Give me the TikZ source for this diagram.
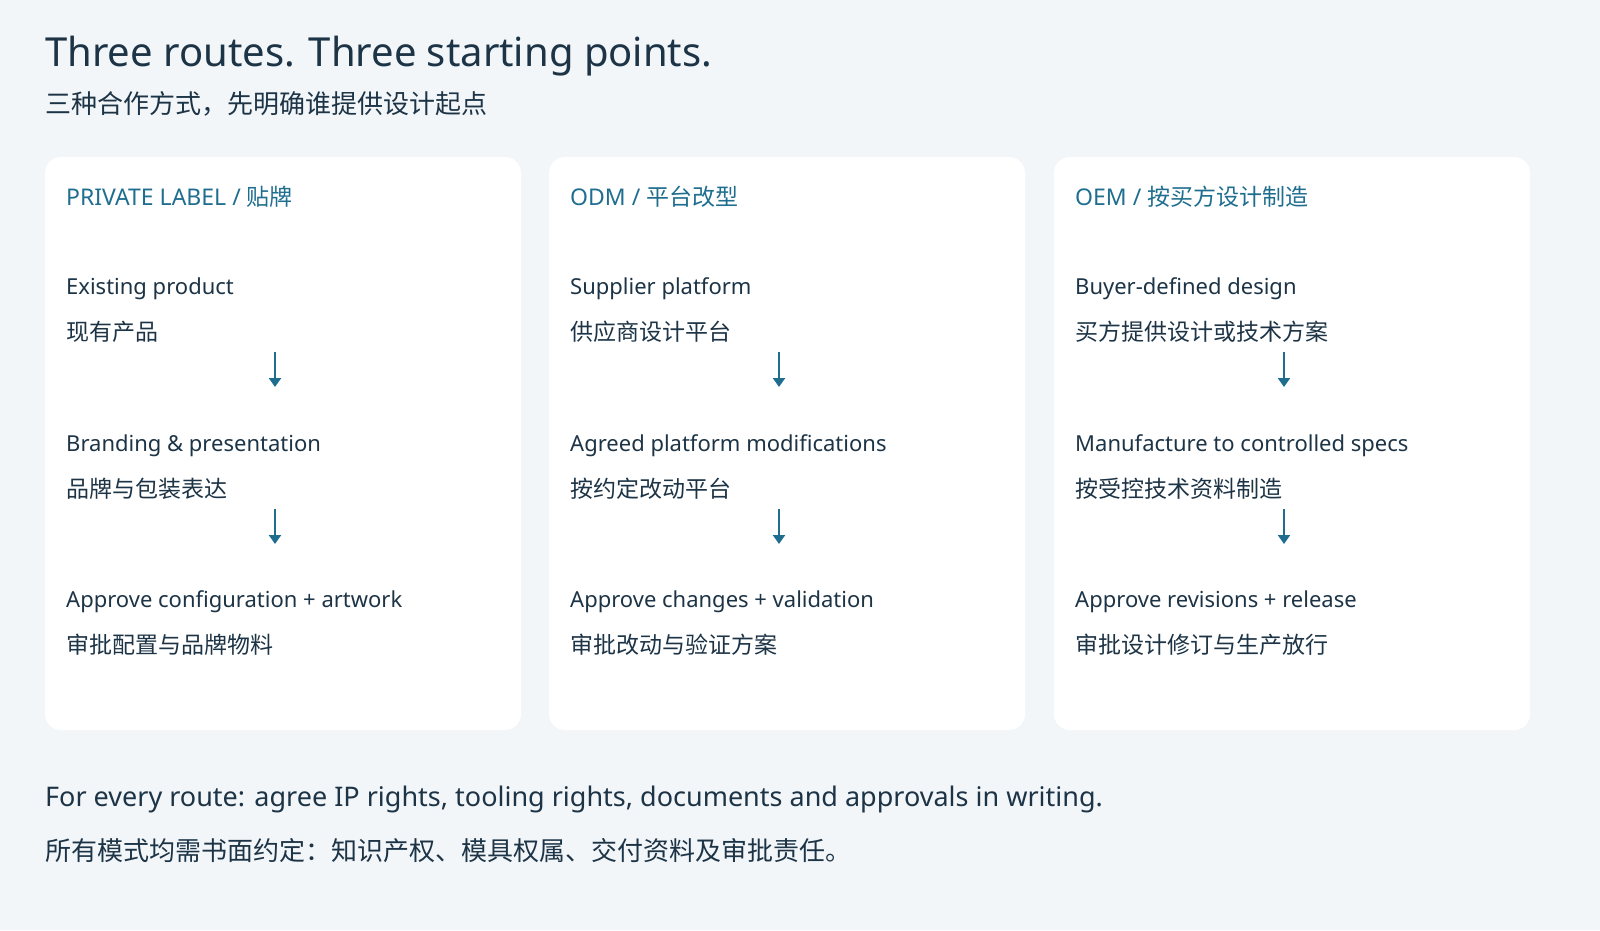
\documentclass[tikz,border=0pt]{standalone}
\usepackage{fontspec}
\setmainfont{Noto Sans}
\newfontfamily\cjk{Noto Sans CJK SC}
\usetikzlibrary{calc,arrows.meta}
\definecolor{pagebg}{HTML}{F2F6F9}
\definecolor{ink}{HTML}{1D3446}
\definecolor{accent}{HTML}{1F6E8F}
\tikzset{
  card/.style={fill=white,draw=none,rounded corners=16pt},
  txt/.style={anchor=base west,inner sep=0pt,text=ink,font=\fontsize{22}{26}\selectfont},
  zh/.style={txt,font=\cjk\fontsize{23}{27}\selectfont},
  head/.style={anchor=base west,inner sep=0pt,text=accent,font=\fontsize{23}{27}\selectfont},
  flowarrow/.style={draw=accent,line width=2.2pt,-{Triangle[length=9pt,width=12pt]}}
}
\begin{document}
\begin{tikzpicture}[x=1pt,y=-1pt]
  \fill[pagebg] (0,0) rectangle (1600,930);
  \useasboundingbox (0,0) rectangle (1600,930);
  % heading
  \node[anchor=base west,inner sep=0pt,text=ink,font=\fontsize{40}{46}\selectfont] (title) at (45,66) {Three routes. Three starting points.};
  \node[anchor=base west,inner sep=0pt,text=ink,font=\cjk\fontsize{26}{30}\selectfont] (subtitle) at (45,113) {三种合作方式，先明确谁提供设计起点};
  % cards
  \foreach \x/\n in {45/pl,549/odm,1054/oem}{
    \fill[card] (\x,157) rectangle ++(476,573);
    \coordinate (\n) at (\x+21,0);
  }
  \node[head] (plhead) at ($(pl)+(0,205)$) {PRIVATE LABEL / {\cjk 贴牌}};
  \node[head] (odmhead) at ($(odm)+(0,205)$) {ODM / {\cjk 平台改型}};
  \node[head] (oemhead) at ($(oem)+(0,205)$) {OEM / {\cjk 按买方设计制造}};
  % private label
  \node[txt] (pl1) at ($(pl)+(0,294)$) {Existing product};
  \node[zh] (pl1z) at ($(pl)+(0,340)$) {现有产品};
  \node[txt] (pl2) at ($(pl)+(0,451)$) {Branding \& presentation};
  \node[zh] (pl2z) at ($(pl)+(0,497)$) {品牌与包装表达};
  \node[txt] (pl3) at ($(pl)+(0,607)$) {Approve configuration + artwork};
  \node[zh] (pl3z) at ($(pl)+(0,653)$) {审批配置与品牌物料};
  % odm
  \node[txt] (odm1) at ($(odm)+(0,294)$) {Supplier platform};
  \node[zh] (odm1z) at ($(odm)+(0,340)$) {供应商设计平台};
  \node[txt] (odm2) at ($(odm)+(0,451)$) {Agreed platform modifications};
  \node[zh] (odm2z) at ($(odm)+(0,497)$) {按约定改动平台};
  \node[txt] (odm3) at ($(odm)+(0,607)$) {Approve changes + validation};
  \node[zh] (odm3z) at ($(odm)+(0,653)$) {审批改动与验证方案};
  % oem
  \node[txt] (oem1) at ($(oem)+(0,294)$) {Buyer-defined design};
  \node[zh] (oem1z) at ($(oem)+(0,340)$) {买方提供设计或技术方案};
  \node[txt] (oem2) at ($(oem)+(0,451)$) {Manufacture to controlled specs};
  \node[zh] (oem2z) at ($(oem)+(0,497)$) {按受控技术资料制造};
  \node[txt] (oem3) at ($(oem)+(0,607)$) {Approve revisions + release};
  \node[zh] (oem3z) at ($(oem)+(0,653)$) {审批设计修订与生产放行};
  % arrows
  \foreach \n in {pl,odm,oem}{
    \coordinate (\n a) at ($(\n)+(209,352)$);
    \coordinate (\n b) at ($(\n)+(209,387)$);
    \coordinate (\n c) at ($(\n)+(209,509)$);
    \coordinate (\n d) at ($(\n)+(209,544)$);
    \draw[flowarrow] (\n a) -- (\n b);
    \draw[flowarrow] (\n c) -- (\n d);
  }
  % footer
  \node[anchor=base west,inner sep=0pt,text=ink,font=\fontsize{27}{31}\selectfont] (note) at (45,806) {For every route: agree IP rights, tooling rights, documents and approvals in writing.};
  \node[anchor=base west,inner sep=0pt,text=ink,font=\cjk\fontsize{26}{30}\selectfont] (notezh) at (45,860) {所有模式均需书面约定：知识产权、模具权属、交付资料及审批责任。};
\end{tikzpicture}
\end{document}
